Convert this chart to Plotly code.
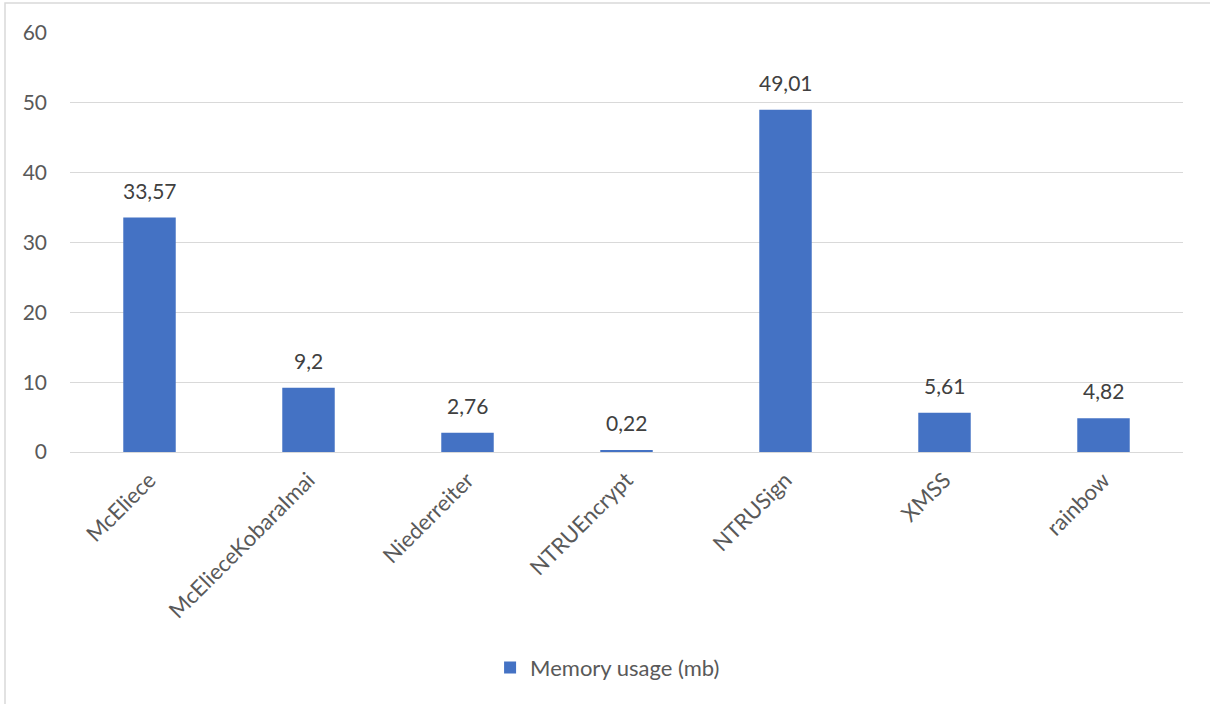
import plotly.graph_objects as go

categories = ["McEliece", "McElieceKobaraImai", "Niederreiter", "NTRUEncrypt", "NTRUSign", "XMSS", "rainbow"]
memory_mb = [33.57, 9.2, 2.76, 0.22, 49.01, 5.61, 4.82]
labels = ["33,57", "9,2", "2,76", "0,22", "49,01", "5,61", "4,82"]
series_name = "Memory usage (mb)"

FONT = "Lato, 'Noto Sans', sans-serif"

fig = go.Figure()
fig.add_trace(go.Bar(
    x=categories, y=memory_mb, name=series_name,
    marker=dict(color="#4472C4", line=dict(width=0)),
    showlegend=True,
))

for c, v, t in zip(categories, memory_mb, labels):
    fig.add_annotation(x=c, y=v, text=t, showarrow=False, yanchor="bottom", yshift=13,
                       font=dict(family=FONT, size=21, color="#404040"))

fig.update_layout(
    width=1210, height=704,
    margin=dict(l=70, r=27, t=33, b=252),
    paper_bgcolor="white", plot_bgcolor="white",
    bargap=0.67,
    font=dict(family=FONT, size=21, color="#595959"),
    xaxis=dict(tickangle=-45, showgrid=False, showline=False, ticks="", ticklabelstandoff=10,
               tickfont=dict(family=FONT, size=22, color="#595959")),
    yaxis=dict(range=[0, 60], dtick=10, showgrid=True, gridcolor="#D9D9D9", gridwidth=1,
               zeroline=True, zerolinecolor="#D9D9D9", zerolinewidth=1,
               showline=False, ticks="", ticklabelstandoff=22,
               tickfont=dict(family=FONT, size=21, color="#595959")),
    legend=dict(orientation="h", x=0.483, xanchor="center", y=-0.515, yanchor="middle",
                font=dict(family=FONT, size=22, color="#595959"), itemwidth=30),
    shapes=[dict(type="rect", xref="paper", yref="paper",
                 x0=-0.0584, y0=-0.75, x1=1.2, y1=1.0716,
                 line=dict(color="#D9D9D9", width=1.5), fillcolor="rgba(0,0,0,0)", layer="below")],
)

fig.write_html("out.html")
